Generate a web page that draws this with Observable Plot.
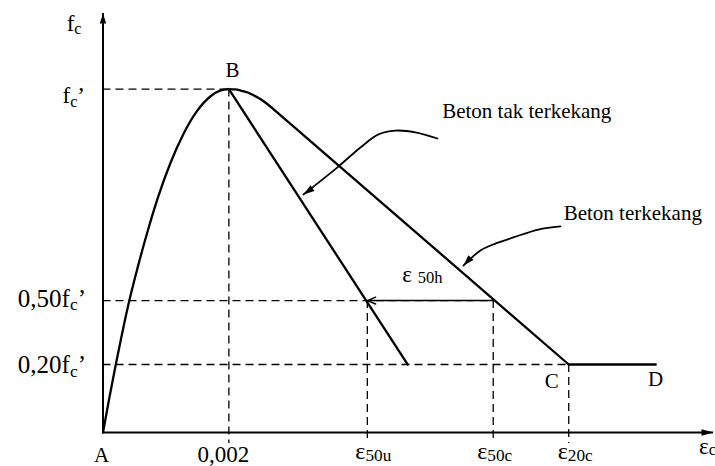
<!DOCTYPE html>
<html>
<head>
<meta charset="utf-8">
<script src="https://cdn.jsdelivr.net/npm/d3@7"></script>
<script src="https://cdn.jsdelivr.net/npm/@observablehq/plot@0.6"></script>
<style>
  html, body { margin: 0; padding: 0; background: #fff; }
  svg { display: block; }
</style>
</head>
<body>
<div id="chart"></div>
<script>
// ---- Data (strain εc, stress as fraction of fc' as drawn in the schematic) ----
const strainMax = 0.0097;
const stressMax = 1.22;

// Ascending branch A -> B
const ascendingStrain = [0, 0.0001, 0.0002, 0.0003, 0.0004, 0.00055, 0.0007, 0.00088, 0.00107, 0.00128, 0.00149, 0.00171, 0.00187, 0.002];
const ascendingStress = [0, 0.1, 0.195, 0.285, 0.37, 0.48, 0.58, 0.688, 0.784, 0.87, 0.935, 0.979, 0.996, 1];

// Confined concrete: rounded top just after B, then straight down to C
const confinedTopStrain = [0.002, 0.0021, 0.0022, 0.0023, 0.0024, 0.0025, 0.0026, 0.00268];
const confinedTopStress = [1, 0.999, 0.995, 0.99, 0.981, 0.971, 0.958, 0.946];
const confinedStrain = [0.00268, 0.0074];
const confinedStress = [0.946, 0.198];

// Unconfined concrete descending branch
const unconfinedStrain = [0.002, 0.00484];
const unconfinedStress = [1, 0.198];

// Plateau C -> D
const plateauStrain = [0.0074, 0.00878];
const plateauStress = [0.198, 0.198];

// Key strains on the x axis
const keyStrainLabels = ["0,002", "ε_{50u}", "ε_{50c}", "ε_{20c}"];
const keyStrainValues = [0.002, 0.0042, 0.0062, 0.0074];
const keyStrainTop = [1, 0.384, 0.384, 0.198];

// Stress levels on the y axis
const stressLevelLabels = ["f_{c}’", "0,50f_{c}’", "0,20f_{c}’"];
const stressLevelValues = [1, 0.384, 0.198];
const stressLevelEnd = [0.002, 0.0062, 0.0074];

// Points
const pointLabels = ["A", "B", "C", "D"];
const pointStrain = [0, 0.002, 0.0074, 0.00878];
const pointStress = [0, 1, 0.198, 0.198];

// ε50h arrow
const arrowFromStrain = [0.0062];
const arrowToStrain = [0.0042];
const arrowStress = [0.384];

// Callouts
const calloutTexts = ["Beton tak terkekang", "Beton terkekang"];
const calloutTextStrain = [0.005389, 0.00732];
const calloutTextStress = [0.917, 0.62];
const unconfinedCalloutStrain = [0.005314, 0.004964, 0.004647, 0.004377, 0.004091, 0.003725, 0.003185];
const unconfinedCalloutStress = [0.856, 0.874, 0.879, 0.868, 0.83, 0.772, 0.693];
const confinedCalloutStrain = [0.007268, 0.006918, 0.006521, 0.006235, 0.005997, 0.005727];
const confinedCalloutStress = [0.6, 0.591, 0.568, 0.55, 0.53, 0.486];

// ---- Tables ----
const zip = (xs, ys) => xs.map((x, i) => ({x, y: ys[i]}));
const ascending = zip(ascendingStrain, ascendingStress);
const confinedTop = zip(confinedTopStrain, confinedTopStress);
const confined = zip(confinedStrain, confinedStress);
const unconfined = zip(unconfinedStrain, unconfinedStress);
const plateau = zip(plateauStrain, plateauStress);
const keys = keyStrainValues.map((x, i) => ({x, top: keyStrainTop[i], label: keyStrainLabels[i]}));
const levels = stressLevelValues.map((y, i) => ({y, end: stressLevelEnd[i], label: stressLevelLabels[i]}));
const points = pointLabels.map((label, i) => ({label, x: pointStrain[i], y: pointStress[i]}));
const arrows = arrowStress.map((y, i) => ({x1: arrowFromStrain[i], x2: arrowToStrain[i], y}));
const callUn = zip(unconfinedCalloutStrain, unconfinedCalloutStress);
const callCo = zip(confinedCalloutStrain, confinedCalloutStress);
const callTexts = calloutTexts.map((t, i) => ({t, x: calloutTextStrain[i], y: calloutTextStress[i]}));

const dash = "8,5";
const serif = '"Liberation Serif", "Times New Roman", serif';

function label(data, opts) {
  return Plot.text(data, {lineAnchor: "bottom", fill: "black", ...opts});
}

const chart = Plot.plot({
  width: 715,
  height: 466,
  marginLeft: 102.5,
  marginRight: 2,
  marginTop: 13,
  marginBottom: 34,
  x: {domain: [0, strainMax], axis: null},
  y: {domain: [0, stressMax], axis: null},
  style: {fontFamily: serif, background: "white", color: "black", overflow: "visible"},
  marks: [
    // dashed guides
    Plot.ruleY(levels, {y: "y", x1: 0, x2: "end", stroke: "black", strokeWidth: 1.3, strokeDasharray: dash}),
    Plot.ruleX(keys, {x: "x", y1: "top", y2: 0, stroke: "black", strokeWidth: 1.3, strokeDasharray: dash, insetBottom: -11}),
    // axes
    Plot.ruleY([0], {x1: 0, x2: strainMax, stroke: "black", strokeWidth: 2}),
    Plot.ruleX([0], {y1: 0, y2: stressMax, stroke: "black", strokeWidth: 2}),
    Plot.vector([{x: strainMax, y: 0}], {x: "x", y: "y", shape: "spike", anchor: "end", length: 12, r: 3.2, rotate: 90, fill: "black", stroke: "none"}),
    Plot.vector([{x: 0, y: stressMax}], {x: "x", y: "y", shape: "spike", anchor: "end", length: 10, r: 3.2, rotate: 0, fill: "black", stroke: "none"}),
    // curves
    Plot.line(ascending, {x: "x", y: "y", curve: "monotone-x", stroke: "black", strokeWidth: 2.3}),
    Plot.line(confinedTop, {x: "x", y: "y", curve: "monotone-x", stroke: "black", strokeWidth: 2.3}),
    Plot.line(confined, {x: "x", y: "y", stroke: "black", strokeWidth: 2.3}),
    Plot.line(unconfined, {x: "x", y: "y", stroke: "black", strokeWidth: 2.3}),
    Plot.line(plateau, {x: "x", y: "y", stroke: "black", strokeWidth: 2.5}),
    // ε50h arrow
    Plot.arrow(arrows, {x1: "x1", x2: "x2", y1: "y", y2: "y", stroke: "black", strokeWidth: 1.5, headLength: 9, headAngle: 45}),
    // callouts
    Plot.line(callUn, {x: "x", y: "y", curve: "catmull-rom", stroke: "black", strokeWidth: 1.8}),
    Plot.vector([callUn[callUn.length - 1]], {x: "x", y: "y", shape: "spike", anchor: "end", length: 11, r: 3.5, rotate: 235, fill: "black", stroke: "none"}),
    Plot.line(callCo, {x: "x", y: "y", curve: "catmull-rom", stroke: "black", strokeWidth: 1.8}),
    Plot.vector([callCo[callCo.length - 1]], {x: "x", y: "y", shape: "spike", anchor: "end", length: 11, r: 3.5, rotate: 223, fill: "black", stroke: "none"}),
    label(callTexts, {x: "x", y: "y", text: "t", textAnchor: "start", fontSize: 21}),
    // y labels
    label([{t: "f_{c}"}], {x: () => 0, y: () => stressMax, text: "t", textAnchor: "end", dx: -21.5, dy: 17, fontSize: 23}),
    label([levels[0]], {x: () => 0, y: "y", text: "label", textAnchor: "end", dx: -18, dy: 14, fontSize: 23}),
    label([levels[1]], {x: () => 0, y: "y", text: "label", textAnchor: "end", dx: -17, dy: 6, fontSize: 25}),
    label([levels[2]], {x: () => 0, y: "y", text: "label", textAnchor: "end", dx: -17, dy: 8.5, fontSize: 25}),
    // x labels
    label([keys[0]], {x: "x", y: () => 0, text: "label", textAnchor: "middle", dx: -5.5, dy: 29.5, fontSize: 23}),
    label([keys[1]], {x: "x", y: () => 0, text: "label", textAnchor: "start", dx: -12, dy: 26.5, fontSize: 24}),
    label([keys[2]], {x: "x", y: () => 0, text: "label", textAnchor: "start", dx: -16, dy: 26.5, fontSize: 24}),
    label([keys[3]], {x: "x", y: () => 0, text: "label", textAnchor: "start", dx: -11, dy: 26.5, fontSize: 24}),
    label([{t: "ε_{c}"}], {x: () => strainMax, y: () => 0, text: "t", textAnchor: "end", dx: 2.5, dy: 21, fontSize: 23}),
    label(arrows, {x: "x2", y: "y", text: () => "ε _{50h}", textAnchor: "start", dx: 35, dy: -19, fontSize: 23}),
    // point labels
    label([points[0]], {x: "x", y: "y", text: "label", textAnchor: "middle", dx: -1.5, dy: 29.5, fontSize: 21}),
    label([points[1]], {x: "x", y: "y", text: "label", textAnchor: "middle", dx: 3.5, dy: -12, fontSize: 21}),
    label([points[2]], {x: "x", y: "y", text: "label", textAnchor: "middle", dx: -17, dy: 24, fontSize: 21}),
    label([points[3]], {x: "x", y: "y", text: "label", textAnchor: "middle", dx: 0, dy: 22, fontSize: 21})
  ]
});

document.getElementById("chart").appendChild(chart);

// Turn "_{...}" markup into subscript tspans (text stays real text)
d3.select(chart).selectAll("text").each(function () {
  const t = this.textContent;
  if (!t.includes("_{")) return;
  const fs = parseFloat(getComputedStyle(this).fontSize) || 22;
  const isStrain = t.startsWith("ε");
  const subSize = fs * (isStrain ? 0.72 : 0.7);
  const shift = fs * (isStrain ? 0.08 : 0.15);
  const parts = t.split(/(_\{[^}]*\})/).filter((s) => s.length);
  this.textContent = "";
  let shifted = false;
  for (const p of parts) {
    const ts = d3.select(this).append("tspan");
    if (p.startsWith("_{")) {
      ts.text(p.slice(2, -1)).attr("font-size", subSize).attr("dy", shift);
      shifted = true;
    } else {
      ts.text(p);
      if (shifted) ts.attr("dy", -shift);
      shifted = false;
    }
  }
});
</script>
</body>
</html>
